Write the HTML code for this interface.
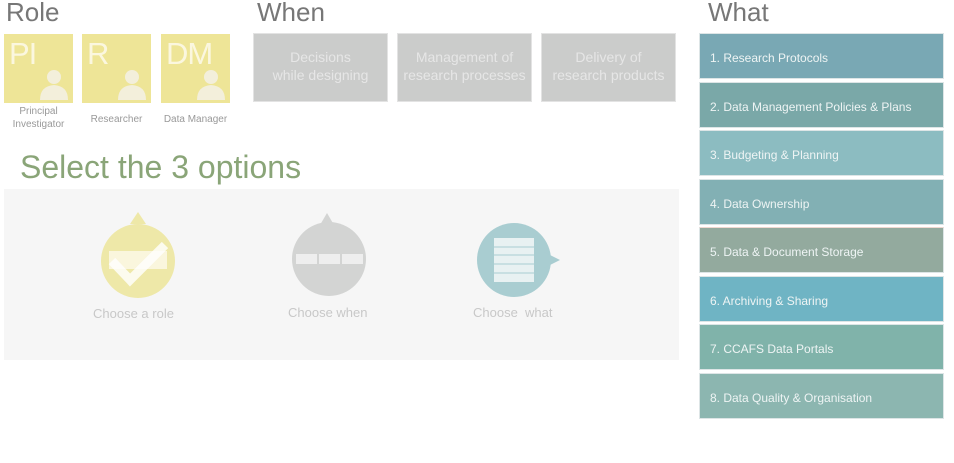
<!DOCTYPE html>
<html><head><style>
body{margin:0;width:954px;height:463px;background:#fff;font-family:"Liberation Sans",sans-serif;position:relative;overflow:hidden}
.a{position:absolute}
.h{font-size:26px;color:#777;font-weight:300}
.role{width:69px;height:69px;background:#eee597}
.role span{position:absolute;left:5px;top:2px;font-size:31px;color:#fbf7df;letter-spacing:-1px}
.lbl{font-size:10px;color:#999;text-align:center;line-height:13px}
.when{width:135px;height:69px;background:#cbcccb;border:1px solid #e3e3e3;color:#e6e6e6;font-size:14px;text-align:center;line-height:18px;box-sizing:border-box;padding-top:14px}
.w{left:699px;width:245px;height:46px;box-sizing:border-box;border:1px solid #dde5e6;color:#eef4f4;font-size:12px;padding:17px 0 0 10px}
</style></head><body>
<div class="a h" style="left:6px;top:-3px">Role</div>
<div class="a h" style="left:257px;top:-3px">When</div>
<div class="a h" style="left:708px;top:-3px">What</div>

<div class="a role" style="left:4px;top:34px"><span>PI</span>
<svg class="a" style="left:30px;top:30px" width="36" height="36"><circle cx="20" cy="13" r="7" fill="#f3efdb"/><path d="M6 36 Q6 22 20 21 Q34 22 34 36Z" fill="#f3efdb"/></svg></div>
<div class="a role" style="left:82px;top:34px"><span>R</span>
<svg class="a" style="left:30px;top:30px" width="36" height="36"><circle cx="20" cy="13" r="7" fill="#f3efdb"/><path d="M6 36 Q6 22 20 21 Q34 22 34 36Z" fill="#f3efdb"/></svg></div>
<div class="a role" style="left:161px;top:34px"><span>DM</span>
<svg class="a" style="left:30px;top:30px" width="36" height="36"><circle cx="20" cy="13" r="7" fill="#f3efdb"/><path d="M6 36 Q6 22 20 21 Q34 22 34 36Z" fill="#f3efdb"/></svg></div>
<div class="a lbl" style="left:0;top:105px;width:77px">Principal<br>Investigator</div>
<div class="a lbl" style="left:80px;top:113px;width:73px">Researcher</div>
<div class="a lbl" style="left:157px;top:113px;width:77px">Data Manager</div>

<div class="a when" style="left:253px;top:33px">Decisions<br>while designing</div>
<div class="a when" style="left:397px;top:33px">Management of<br>research processes</div>
<div class="a when" style="left:541px;top:33px">Delivery of<br>research products</div>

<div class="a" style="left:20px;top:149px;font-size:32px;color:#8aa578;font-weight:300">Select the 3 options</div>
<div class="a" style="left:4px;top:189px;width:675px;height:171px;background:#f6f6f6"></div>
<svg class="a" style="left:0;top:200px" width="680" height="130">
<polygon points="130,24 138,12 146,24" fill="#eee8a8"/>
<circle cx="138" cy="61" r="37" fill="#eee8a8"/>
<rect x="109" y="51" width="58" height="18" fill="#fbf8e6" opacity=".85"/>
<polyline points="112,61 130,80 165,45" fill="none" stroke="#fff" stroke-width="9" opacity=".8"/>
<polygon points="320,25 327,13 334,25" fill="#d3d4d3"/>
<circle cx="329" cy="59" r="37" fill="#d3d4d3"/>
<rect x="296" y="54" width="21" height="10" fill="#eee"/><rect x="319" y="54" width="21" height="10" fill="#eee"/><rect x="342" y="54" width="21" height="10" fill="#eee"/>
<circle cx="514" cy="60" r="37" fill="#a9cdd1"/>
<polygon points="544,52 560,60 544,68" fill="#a9cdd1"/>
<rect x="494" y="38" width="40" height="44" fill="#e8f1f2"/>
<g stroke="#a9cdd1" stroke-width="1"><line x1="494" y1="47" x2="534" y2="47"/><line x1="494" y1="55" x2="534" y2="55"/><line x1="494" y1="64" x2="534" y2="64"/><line x1="494" y1="73" x2="534" y2="73"/></g>
</svg>
<div class="a" style="left:93px;top:306px;font-size:13px;color:#c8c8c8">Choose a role</div>
<div class="a" style="left:288px;top:305px;font-size:13px;color:#c8c8c8">Choose when</div>
<div class="a" style="left:473px;top:305px;font-size:13px;color:#c8c8c8">Choose&nbsp; what</div>

<div class="a w" style="top:33px;background:#79a8b4">1. Research Protocols</div>
<div class="a w" style="top:82px;background:#7aa8a8">2. Data Management Policies &amp; Plans</div>
<div class="a w" style="top:130px;background:#8cbcc1">3. Budgeting &amp; Planning</div>
<div class="a w" style="top:179px;background:#82b0b4">4. Data Ownership</div>
<div class="a w" style="top:227px;background:#93aa9e;border-top-color:#f0d8d0">5. Data &amp; Document Storage</div>
<div class="a w" style="top:276px;background:#6fb4c4">6. Archiving &amp; Sharing</div>
<div class="a w" style="top:324px;background:#80b3aa">7. CCAFS Data Portals</div>
<div class="a w" style="top:373px;background:#8cb6b0">8. Data Quality &amp; Organisation</div>
</body></html>
